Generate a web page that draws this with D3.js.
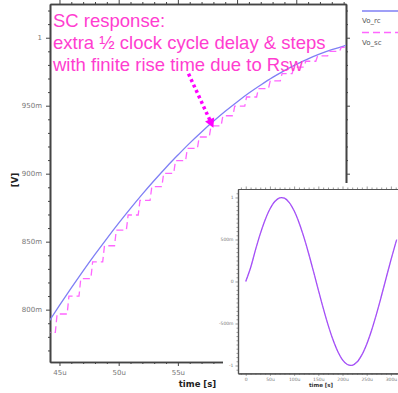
<!DOCTYPE html>
<html><head><meta charset="utf-8">
<script src="https://cdn.jsdelivr.net/npm/d3@7"></script>
<style>
html,body{margin:0;padding:0;background:#fff;}
svg{display:block;}
</style></head>
<body>
<svg id="chart" width="398" height="393"></svg>
<script>
// ---- data ----
// Vo_rc : continuous RC output, time in µs, value in V
const rcTime = [44,45,46,47,48,49,50,51,52,53,54,55,56,57,58,59,60,61,62,63,64,65,66,67,68,69,70];
const rcValue = [0.7898,0.8031,0.8160,0.8285,0.8406,0.8523,0.8636,0.8745,0.8850,0.8950,0.9046,0.9137,0.9225,0.9307,0.9385,0.9459,0.9528,0.9593,0.9652,0.9708,0.9758,0.9804,0.9845,0.9881,0.9912,0.9939,0.9961];
// Vo_sc : switched-capacitor staircase, step instants (µs) and held levels (V)
const scStepTime = [43.65,44.65,45.65,46.65,47.65,48.65,49.65,50.65,51.65,52.65,53.65,54.65,55.65,56.65,57.65,58.65,59.65,60.65,61.65,62.65,63.65,64.65,65.65,66.65,67.65,68.65,69.65];
const scLevel = [0.7833,0.7968,0.8100,0.8228,0.8351,0.8470,0.8585,0.8696,0.8803,0.8905,0.9003,0.9096,0.9186,0.9270,0.9351,0.9426,0.9497,0.9564,0.9626,0.9683,0.9736,0.9784,0.9827,0.9866,0.9900,0.9929,0.9955];
const scRiseTime = 0.15;
// main axis ticks
const xMajor = [45,50,55,60,65];
const xMajorLabels = ["45u","50u","55u","60u","65u"];
const yMajor = [0.80,0.85,0.90,0.95,1.00];
const yMajorLabels = ["800m","850m","900m","950m","1"];
// inset: full waveform
const inTime = [0,10,20,30,40,50,60,70,80,90,100,110,120,130,140,150,160,170,180,190,200,210,220,230,240,250,260,270,280,290,300,310,312];
const inValue = [0,0.163,0.3734,0.5669,0.7330,0.8636,0.9528,0.9961,0.9914,0.9390,0.8412,0.7030,0.5310,0.3333,0.1196,-0.0999,-0.3146,-0.5141,-0.6887,-0.8303,-0.9320,-0.9886,-0.9976,-0.9588,-0.8734,-0.7461,-0.5830,-0.3916,-0.1815,0.0374,0.2545,0.4594,0.4980];
const inXMajor = [0,50,100,150,200,250,300];
const inXLabels = ["0","50u","100u","150u","200u","250u","300u"];
const inYMajor = [-1,-0.5,0,0.5,1];
const inYLabels = ["-1","-500m","0","500m","1"];
const legendNames = ["Vo_rc","Vo_sc"];
const annotation = ["SC response:","extra \u00BD clock cycle delay & steps","with finite rise time due to Rsw"];

// ---- drawing ----
const svg = d3.select("#chart");
const axisColor = "#444";
const blue = "#7f7ff5";
const pink = "#ff66ff";

const x = d3.scaleLinear().domain([44.2, 69.2]).range([50, 346]);
const y = d3.scaleLinear().domain([0.7615, 1.0248]).range([362, 4]);

svg.append("defs").append("clipPath").attr("id","mainclip")
  .append("rect").attr("x",50).attr("y",4).attr("width",296).attr("height",358);

function styleAxis(g, w){
  g.select(".domain").attr("stroke",axisColor).attr("stroke-width",w);
  g.selectAll(".tick line").attr("stroke",axisColor).attr("stroke-width",1);
  g.selectAll(".tick text").attr("fill","#777").attr("font-family","DejaVu Sans, sans-serif");
}
const xMinor = d3.range(45, 70, 1).filter(v => !xMajor.includes(v));
const yMinor = d3.range(77, 103, 1).map(v => v/100).filter(v => !yMajor.some(m => Math.abs(m-v) < 1e-6));

function minorAxis(axisFn, scale, vals, size, tr){
  const g = svg.append("g").attr("transform", tr)
    .call(axisFn(scale).tickValues(vals).tickSize(size).tickSizeOuter(0).tickFormat(""));
  styleAxis(g, 1.6);
  return g;
}
// main axes
minorAxis(d3.axisBottom, x, xMinor, 2, "translate(0,362)");
minorAxis(d3.axisTop, x, xMinor, 2, "translate(0,4)");
minorAxis(d3.axisLeft, y, yMinor, 2, "translate(50,0)");
minorAxis(d3.axisRight, y, yMinor, 2, "translate(346,0)");

const gxb = svg.append("g").attr("transform","translate(0,362)")
  .call(d3.axisBottom(x).tickValues(xMajor).tickSize(4).tickSizeOuter(0).tickPadding(4)
    .tickFormat((d,i)=>xMajorLabels[i]));
styleAxis(gxb, 1.6); gxb.selectAll(".tick text").attr("font-size",7);
const gxt = svg.append("g").attr("transform","translate(0,4)")
  .call(d3.axisTop(x).tickValues(xMajor).tickSize(4).tickSizeOuter(0).tickFormat(""));
styleAxis(gxt, 1.6);
const gyl = svg.append("g").attr("transform","translate(50,0)")
  .call(d3.axisLeft(y).tickValues(yMajor).tickSize(4).tickSizeOuter(0).tickPadding(4)
    .tickFormat((d,i)=>yMajorLabels[i]));
styleAxis(gyl, 1.6); gyl.selectAll(".tick text").attr("font-size",7);
const gyr = svg.append("g").attr("transform","translate(346,0)")
  .call(d3.axisRight(y).tickValues(yMajor).tickSize(4).tickSizeOuter(0).tickFormat(""));
styleAxis(gyr, 1.6);

// axis titles
svg.append("text").attr("x",197.5).attr("y",386.5).attr("text-anchor","middle")
  .attr("font-family","DejaVu Sans, sans-serif").attr("font-weight","bold").attr("font-size",8.5)
  .attr("fill","#222").text("time [s]");
svg.append("text").attr("transform","translate(18,180) rotate(-90)").attr("text-anchor","middle")
  .attr("font-family","DejaVu Sans, sans-serif").attr("font-weight","bold").attr("font-size",8.5)
  .attr("fill","#222").text("[V]");

// series
const plot = svg.append("g").attr("clip-path","url(#mainclip)");
const rcData = rcTime.map((t,i)=>[t, rcValue[i]]);
plot.append("path").datum(rcData)
  .attr("d", d3.line().x(d=>x(d[0])).y(d=>y(d[1])).curve(d3.curveMonotoneX))
  .attr("fill","none").attr("stroke",blue).attr("stroke-width",1.3);

const scData = [];
scStepTime.forEach((t,i)=>{
  if (i>0) scData.push([t, scLevel[i-1]]);
  scData.push([i>0 ? t+scRiseTime : t, scLevel[i]]);
});
plot.append("path").datum(scData)
  .attr("d", d3.line().x(d=>x(d[0])).y(d=>y(d[1])))
  .attr("fill","none").attr("stroke",pink).attr("stroke-width",1.3)
  .attr("stroke-dasharray","7,4");

// legend
const lg = svg.append("g");
lg.append("line").attr("x1",362).attr("x2",398).attr("y1",11).attr("y2",11)
  .attr("stroke",blue).attr("stroke-width",1.5);
lg.append("text").attr("x",362).attr("y",22.5).attr("font-family","DejaVu Sans, sans-serif")
  .attr("font-size",7).attr("fill","#555").text(legendNames[0]);
lg.append("line").attr("x1",362).attr("x2",398).attr("y1",32.5).attr("y2",32.5)
  .attr("stroke",pink).attr("stroke-width",1.5).attr("stroke-dasharray","7,4");
lg.append("text").attr("x",362).attr("y",44.5).attr("font-family","DejaVu Sans, sans-serif")
  .attr("font-size",7).attr("fill","#555").text(legendNames[1]);

// annotation
const ann = svg.append("g");
annotation.forEach((s,i)=>{
  ann.append("text").attr("x",53).attr("y",26.5 + i*22)
    .attr("font-family","Liberation Sans, Arial, sans-serif").attr("font-size",18.5)
    .attr("fill","#ff3dd0").text(s);
});
const a0 = [x(55.9), y(0.9735)], a1 = [x(57.75), y(0.9385)];
ann.append("line").attr("x1",a0[0]).attr("y1",a0[1]).attr("x2",a1[0]).attr("y2",a1[1])
  .attr("stroke","#ff00ff").attr("stroke-width",3.5).attr("stroke-dasharray","3,3");
{
  const ang = Math.atan2(a1[1]-a0[1], a1[0]-a0[0]);
  const tip = [a1[0]+7*Math.cos(ang), a1[1]+7*Math.sin(ang)];
  const L = 9, W = 5;
  const bx = tip[0]-L*Math.cos(ang), by = tip[1]-L*Math.sin(ang);
  const p = [tip, [bx - W*Math.sin(ang), by + W*Math.cos(ang)], [bx + W*Math.sin(ang), by - W*Math.cos(ang)]];
  ann.append("polygon").attr("points", p.map(q=>q.join(",")).join(" ")).attr("fill","#ff00ff");
}

// inset
svg.append("rect").attr("x",223).attr("y",183).attr("width",175).attr("height",210).attr("fill","#fff");
const xi = d3.scaleLinear().domain([-16, 314.7]).range([238, 398]);
const yi = d3.scaleLinear().domain([-1.093, 1.101]).range([373.3, 189]);
function insetAxis(axisFn, scale, vals, size, tr, fmt){
  const a = axisFn(scale).tickValues(vals).tickSize(size).tickSizeOuter(0).tickPadding(2);
  a.tickFormat(fmt || "");
  const g = svg.append("g").attr("transform",tr).call(a);
  g.select(".domain").attr("stroke","#555").attr("stroke-width",1.2);
  g.selectAll(".tick line").attr("stroke","#555").attr("stroke-width",0.6);
  g.selectAll(".tick text").attr("fill","#777").attr("font-family","DejaVu Sans, sans-serif").attr("font-size",4.5);
  return g;
}
const inXMinor = d3.range(-10, 315, 10).filter(v=>!inXMajor.includes(v));
const inYMinor = d3.range(-21, 22, 1).map(v=>v*0.05).filter(v=>!inYMajor.some(m=>Math.abs(m-v)<1e-6) && Math.abs(v)<=1.09);
insetAxis(d3.axisBottom, xi, inXMinor, 1.5, "translate(0,373.3)");
insetAxis(d3.axisTop, xi, inXMinor, 1.5, "translate(0,189)");
insetAxis(d3.axisLeft, yi, inYMinor, 1.5, "translate(238,0)");
insetAxis(d3.axisBottom, xi, inXMajor, 2.5, "translate(0,373.3)", (d,i)=>inXLabels[i]);
insetAxis(d3.axisTop, xi, inXMajor, 2.5, "translate(0,189)");
insetAxis(d3.axisLeft, yi, inYMajor, 2.5, "translate(238,0)", (d,i)=>inYLabels[i]);
svg.append("text").attr("x",321).attr("y",387).attr("text-anchor","middle")
  .attr("font-family","DejaVu Sans, sans-serif").attr("font-weight","bold").attr("font-size",5.5)
  .attr("fill","#333").text("time [s]");
const inData = inTime.map((t,i)=>[t, inValue[i]]);
svg.append("path").datum(inData)
  .attr("d", d3.line().x(d=>xi(d[0])).y(d=>yi(d[1])).curve(d3.curveCatmullRom))
  .attr("fill","none").attr("stroke","#9a4cf5").attr("stroke-width",1.3);
svg.append("path").datum(inData)
  .attr("d", d3.line().x(d=>xi(d[0])).y(d=>yi(d[1])).curve(d3.curveCatmullRom))
  .attr("fill","none").attr("stroke","#e066ff").attr("stroke-width",0.7).attr("stroke-dasharray","3,2").attr("opacity",0.5);
</script>
</body></html>
